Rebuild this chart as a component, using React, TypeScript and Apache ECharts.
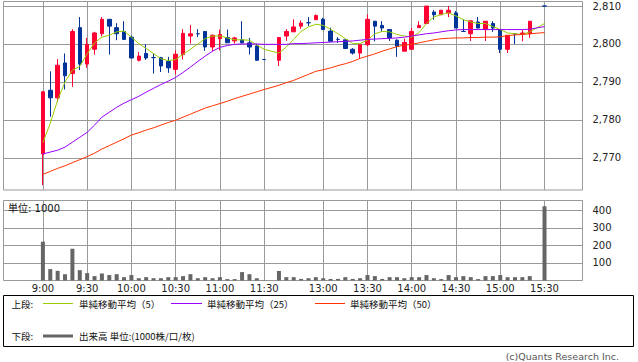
import { useEffect, useRef } from 'react';
import * as echarts from 'echarts';

const TIMES = [
  '9:00', '9:05', '9:10', '9:15', '9:20', '9:25', '9:30', '9:35', '9:40', '9:45', '9:50', '9:55',
  '10:00', '10:05', '10:10', '10:15', '10:20', '10:25', '10:30', '10:35', '10:40', '10:45', '10:50', '10:55',
  '11:00', '11:05', '11:10', '11:15', '11:20', '11:25', '11:30',
  '12:30', '12:35', '12:40', '12:45', '12:50', '12:55',
  '13:00', '13:05', '13:10', '13:15', '13:20', '13:25', '13:30', '13:35', '13:40', '13:45', '13:50', '13:55',
  '14:00', '14:05', '14:10', '14:15', '14:20', '14:25', '14:30', '14:35', '14:40', '14:45', '14:50', '14:55',
  '15:00', '15:05', '15:10', '15:15', '15:20', '15:30',
];

const OPEN = [
  2771, 2787.8, 2785.8, 2795, 2792.2, 2804.3, 2794.7, 2798.6, 2802.7, 2806.5, 2804.3, 2803.3,
  2801.8, 2795.7, 2797.5, 2796.4, 2796.4, 2795.4, 2793.3, 2797.2, 2802.1, 2802.7, 2803.3, 2799.2,
  2801.4, 2801.7, 2800.8, 2801.1, 2800.3, 2799.5, 2795.9,
  2795.7, 2802.1, 2803.2, 2804.7, 2805.6, 2806.4,
  2806.5, 2803.4, 2801.2, 2801.1, 2798.6, 2797.6, 2799.8, 2806, 2804.9, 2803.8, 2801, 2798.1,
  2798.6, 2804.3, 2805.4, 2808.4, 2807.7, 2808.2, 2808.2, 2803.3, 2802.7, 2805.8, 2803.8, 2805.4,
  2803.8, 2798.6, 2802.6, 2802.5, 2802.7, 2810,
];
const CLOSE = [
  2787.4, 2785.8, 2794.4, 2791.6, 2803.3, 2794.7, 2799.9, 2802.9, 2806.5, 2804.7, 2802.7, 2801.2,
  2796.3, 2796.8, 2796.3, 2796.4, 2794.2, 2793.7, 2797.3, 2802.8, 2802.7, 2802.7, 2799.2, 2802.3,
  2802.5, 2800.3, 2801.6, 2800.3, 2799.2, 2795.7, 2795.9,
  2801.7, 2803.3, 2804.5, 2805.5, 2805.6, 2807.5,
  2803.8, 2800.7, 2801.2, 2798.8, 2797.6, 2799.8, 2806.5, 2804.7, 2804.2, 2801.6, 2799.4, 2800.4,
  2803.3, 2804.9, 2810, 2807.7, 2808.9, 2808.9, 2804.2, 2803.3, 2806.1, 2804.2, 2806, 2804.2,
  2798.6, 2802.3, 2802.6, 2802.9, 2806, 2810,
];
const LOW = [
  2762.8, 2780.8, 2784.7, 2788, 2788.7, 2793.1, 2793.7, 2797.2, 2802, 2797.2, 2801, 2801.2,
  2796.3, 2795.4, 2795.8, 2792.2, 2792.6, 2792.4, 2792, 2795.9, 2800.1, 2801.8, 2798.2, 2798.1,
  2798.3, 2800.3, 2800.1, 2800.1, 2797.2, 2795.7, 2795.9,
  2794.2, 2800.8, 2803.2, 2804, 2804.7, 2806.4,
  2803.8, 2800.7, 2800.3, 2798.8, 2797.2, 2796.1, 2799.4, 2800.7, 2803.2, 2800.8, 2796.6, 2798.1,
  2798.6, 2804.3, 2805.4, 2806.4, 2807.7, 2807.1, 2804.2, 2803.3, 2800.8, 2804.2, 2800.8, 2803.2,
  2797.6, 2797.6, 2800, 2800.7, 2801.6, 2810,
];
const HIGH = [
  2787.6, 2792.8, 2796, 2797.5, 2803.9, 2807.1, 2801.6, 2803.2, 2807.1, 2806.5, 2805.5, 2806,
  2802.2, 2797.9, 2799.9, 2797.5, 2796.6, 2796.6, 2798.3, 2803.9, 2805, 2803.9, 2803.3, 2802.5,
  2803.8, 2803.8, 2801.9, 2806, 2801.6, 2800.1, 2795.9,
  2801.7, 2803.9, 2806.5, 2806.2, 2807.1, 2807.8,
  2806.9, 2804.3, 2801.8, 2801.1, 2798.9, 2799.8, 2807.8, 2806, 2806, 2803.8, 2801.2, 2801.4,
  2804.2, 2806, 2810, 2808.9, 2808.9, 2810, 2808.7, 2806.5, 2806.2, 2807.1, 2806, 2806,
  2803.8, 2802.3, 2802.8, 2803.8, 2806, 2810,
];
const VOLUME = [
  221, 65, 55, 36, 181, 59, 42, 25, 40, 31, 36, 19,
  31, 13, 19, 13, 13, 19, 19, 25, 36, 13, 19, 13,
  19, 8, 8, 48, 36, 13, 2,
  54, 19, 19, 9, 13, 19,
  13, 9, 9, 19, 9, 13, 31, 25, 9, 19, 19, 13,
  19, 19, 31, 13, 8, 31, 19, 25, 19, 8, 25, 25,
  31, 19, 19, 19, 25, 423,
];
const MA5 = [
  2774.0, 2779.1, 2785.2, 2790.0, 2793.1, 2794.1, 2797.4, 2800.3, 2801.8, 2802.3, 2803.2, 2803.4,
  2801.8, 2800.1, 2798.8, 2797.5, 2796.1, 2795.6, 2795.9, 2797.3, 2798.6, 2800.0, 2801.4, 2802.1,
  2802.1, 2801.6, 2801.1, 2801.1, 2801.0, 2799.7, 2798.6,
  2797.6, 2799.2, 2801.2, 2803.3, 2804.5, 2805.2,
  2804.9, 2803.9, 2802.7, 2801.4, 2800.1, 2800.1, 2801.0, 2802.7, 2803.3, 2803.2, 2802.5, 2802.1,
  2801.8, 2803.0, 2805.4, 2807.1, 2807.8, 2808.2, 2807.4, 2806.4, 2805.8, 2805.4, 2805.4, 2804.6,
  2803.8, 2802.9, 2802.7, 2802.5, 2803.2, 2805.4,
];
const MA25 = [
  2771.0, 2771.5, 2772.0, 2772.8, 2774.1, 2775.4, 2776.7, 2778.6, 2780.7, 2782.0, 2783.3, 2784.4,
  2785.3, 2786.2, 2787.3, 2788.3, 2789.3, 2790.2, 2791.2, 2792.5, 2793.9, 2795.4, 2796.8, 2798.1,
  2799.1, 2799.6, 2799.9, 2800.0, 2800.0, 2800.0, 2799.9,
  2799.9, 2799.9, 2800.1, 2800.1, 2800.2, 2800.3,
  2800.4, 2800.5, 2800.6, 2800.7, 2800.8, 2801.0, 2801.2, 2801.3, 2801.4, 2801.5, 2801.6, 2801.8,
  2802.1, 2802.4, 2802.7, 2802.9, 2803.2, 2803.5, 2803.7, 2803.8, 2803.8, 2803.8, 2803.8, 2803.8,
  2803.8, 2803.8, 2803.8, 2803.8, 2803.9, 2804.6,
];
const MA50 = [
  2765.6, 2766.4, 2767.2, 2767.9, 2768.7, 2769.5, 2770.3, 2771.2, 2772.3, 2773.2, 2774.1, 2775.0,
  2776.0, 2776.6, 2777.3, 2777.9, 2778.6, 2779.3, 2779.9, 2780.7, 2781.5, 2782.3, 2783.1, 2783.7,
  2784.3, 2784.9, 2785.6, 2786.2, 2786.8, 2787.4, 2788.0,
  2789.1, 2789.8, 2790.4, 2791.2, 2792.0, 2792.8,
  2793.2, 2793.7, 2794.3, 2794.8, 2795.4, 2796.2, 2796.8, 2797.4, 2798.1, 2798.7, 2799.3, 2799.7,
  2799.9, 2800.3, 2800.7, 2801.1, 2801.4, 2801.5, 2801.6, 2801.6, 2801.7, 2801.7, 2801.8, 2801.8,
  2801.9, 2802.2, 2802.4, 2802.5, 2802.7, 2803.0,
];

const PRICE_TICKS = [2770, 2780, 2790, 2800, 2810];
const VOLUME_TICKS = [100, 200, 300, 400];
const GRID_TIMES = ['9:00', '9:30', '10:00', '10:30', '11:00', '11:30', '13:00', '13:30', '14:00', '14:30', '15:00', '15:30'];
const MA_NAMES = ['単純移動平均（5）', '単純移動平均（25）', '単純移動平均（50）'];
const VOLUME_LEGEND = '出来高 単位:(1000株/口/枚)';

const UP = '#ff0033';
const DOWN = '#003399';
const MA_COLORS = ['#99cc00', '#9900ff', '#ff3300'];
const GRID_COLOR = '#999999';
const NUM_FONT = "'DejaVu Sans', 'Noto Sans CJK JP', sans-serif";
const JP_FONT = "'Noto Sans CJK JP', 'DejaVu Sans', sans-serif";

// slot index on the session axis (morning 9:00-11:30, one empty slot for lunch, afternoon 12:30-15:30)
function slotOf(t: string): number {
  const [h, m] = t.split(':').map(Number);
  const mins = h * 60 + m;
  return mins <= 690 ? (mins - 540) / 5 : (mins - 750) / 5 + 32;
}

const X_MIN = -5.34;
const X_MAX = 73.15;

export default function App() {
  const ref = useRef<HTMLDivElement>(null);

  useEffect(() => {
    if (!ref.current) return;
    const chart = echarts.init(ref.current, null, { renderer: 'svg' });
    const gridSlots = GRID_TIMES.map(slotOf);
    const timeLabel = (v: number) => {
      const k = gridSlots.indexOf(Math.round(v));
      return k >= 0 ? GRID_TIMES[k] : '';
    };

    const candleData = TIMES.map((t, i) => {
      const v = [slotOf(t), OPEN[i], CLOSE[i], LOW[i], HIGH[i]];
      if (OPEN[i] === CLOSE[i]) {
        return { value: v, itemStyle: { color: DOWN, color0: DOWN, borderColor: DOWN, borderColor0: DOWN } };
      }
      return v;
    });
    const maData = [MA5, MA25, MA50].map((arr) => TIMES.map((t, i) => [slotOf(t), arr[i]]));
    const volData = TIMES.map((t, i) => [slotOf(t), VOLUME[i]]);

    const legendItems: any[] = [];
    const legendXs = [[43, 73, 79], [171, 202, 207], [315, 345, 350]];
    MA_NAMES.forEach((name, k) => {
      const [x1, x2, tx] = legendXs[k];
      legendItems.push({
        type: 'line',
        shape: { x1, y1: 303.5, x2, y2: 303.5 },
        style: { stroke: MA_COLORS[k], lineWidth: 1 },
      });
      legendItems.push({
        type: 'text',
        x: tx,
        y: 304,
        style: { text: name, fill: '#111', fontSize: 9.5, fontFamily: JP_FONT, verticalAlign: 'middle', align: 'left' },
      });
    });

    chart.setOption({
      animation: false,
      backgroundColor: '#ffffff',
      grid: [
        { left: 3.5, right: 55.5, top: 1.5, height: 188.5, show: true, borderColor: GRID_COLOR, borderWidth: 1, backgroundColor: '#fff' },
        { left: 3.5, right: 55.5, top: 200.5, height: 80, show: true, borderColor: GRID_COLOR, borderWidth: 1, backgroundColor: '#fff' },
      ],
      xAxis: [
        {
          type: 'value', gridIndex: 0, min: X_MIN, max: X_MAX,
          axisLine: { show: false },
          axisTick: { show: false, customValues: gridSlots },
          axisLabel: { show: false, customValues: gridSlots },
          splitLine: { show: true, lineStyle: { color: GRID_COLOR, width: 1 } },
        },
        {
          type: 'value', gridIndex: 1, min: X_MIN, max: X_MAX,
          axisLine: { show: false },
          axisTick: { show: false, customValues: gridSlots },
          axisLabel: {
            show: true, customValues: gridSlots, formatter: timeLabel, margin: 3,
            color: '#222', fontSize: 10, fontFamily: NUM_FONT,
          },
          splitLine: { show: true, lineStyle: { color: GRID_COLOR, width: 1 } },
        },
      ],
      yAxis: [
        {
          type: 'value', gridIndex: 0, position: 'right', min: 2761.5, max: 2811.2, scale: true,
          axisLine: { show: false },
          axisTick: { show: true, length: 6, lineStyle: { color: GRID_COLOR }, customValues: PRICE_TICKS },
          axisLabel: {
            customValues: PRICE_TICKS, margin: 10, color: '#222', fontSize: 10, fontFamily: NUM_FONT,
            formatter: (v: number) => (PRICE_TICKS.indexOf(v) >= 0 ? v.toLocaleString('en-US') : ''),
          },
          splitLine: { show: true, lineStyle: { color: GRID_COLOR, width: 1 } },
        },
        {
          type: 'value', gridIndex: 1, position: 'right', min: 0, max: 456, interval: 100,
          axisLine: { show: false },
          axisTick: { show: true, length: 6, lineStyle: { color: GRID_COLOR }, customValues: VOLUME_TICKS },
          axisLabel: {
            customValues: VOLUME_TICKS, margin: 10, color: '#222', fontSize: 10, fontFamily: NUM_FONT,
            formatter: (v: number) => (VOLUME_TICKS.indexOf(v) >= 0 ? String(v) : ''),
          },
          splitLine: { show: true, lineStyle: { color: GRID_COLOR, width: 1 } },
        },
      ],
      series: [
        {
          type: 'candlestick', xAxisIndex: 0, yAxisIndex: 0,
          encode: { x: 0, y: [1, 2, 3, 4] },
          barWidth: 4,
          itemStyle: { color: UP, color0: DOWN, borderColor: UP, borderColor0: DOWN, borderColorDoji: DOWN, borderWidth: 1 },
          data: candleData,
          z: 2,
        },
        ...maData.map((d, k) => ({
          type: 'line', xAxisIndex: 0, yAxisIndex: 0, data: d,
          showSymbol: false, symbol: 'none', silent: true,
          lineStyle: { color: MA_COLORS[k], width: 1 },
          z: 3,
        })),
        {
          type: 'bar', xAxisIndex: 1, yAxisIndex: 1, data: volData,
          barWidth: 4, itemStyle: { color: '#666666' }, silent: true,
        },
      ],
      graphic: [
        {
          type: 'text', x: 8, y: 208.5, z: 10,
          style: { text: '単位: 1000', fill: '#111', fontSize: 10, fontFamily: NUM_FONT, verticalAlign: 'middle', align: 'left' },
        },
        {
          type: 'rect', shape: { x: 3.5, y: 295.5, width: 630, height: 51 },
          style: { fill: 'none', stroke: '#000', lineWidth: 1 },
        },
        {
          type: 'text', x: 11.5, y: 304,
          style: { text: '上段:', fill: '#111', fontSize: 9.5, fontFamily: JP_FONT, verticalAlign: 'middle', align: 'left' },
        },
        ...legendItems,
        {
          type: 'text', x: 11.5, y: 336,
          style: { text: '下段:', fill: '#111', fontSize: 9.5, fontFamily: JP_FONT, verticalAlign: 'middle', align: 'left' },
        },
        {
          type: 'line', shape: { x1: 43, y1: 336, x2: 73, y2: 336 },
          style: { stroke: '#666666', lineWidth: 3 },
        },
        {
          type: 'text', x: 79, y: 336,
          style: { text: VOLUME_LEGEND, fill: '#111', fontSize: 9.5, fontFamily: JP_FONT, verticalAlign: 'middle', align: 'left' },
        },
        {
          type: 'text', x: 619, y: 356,
          style: { text: '(c)Quants Research Inc.', fill: '#555', fontSize: 9.5, fontFamily: NUM_FONT, verticalAlign: 'middle', align: 'right' },
        },
      ],
    });
    return () => chart.dispose();
  }, []);

  return <div ref={ref} style={{ position: 'fixed', left: 0, top: 0, width: 638, height: 362, background: '#fff' }} />;
}
